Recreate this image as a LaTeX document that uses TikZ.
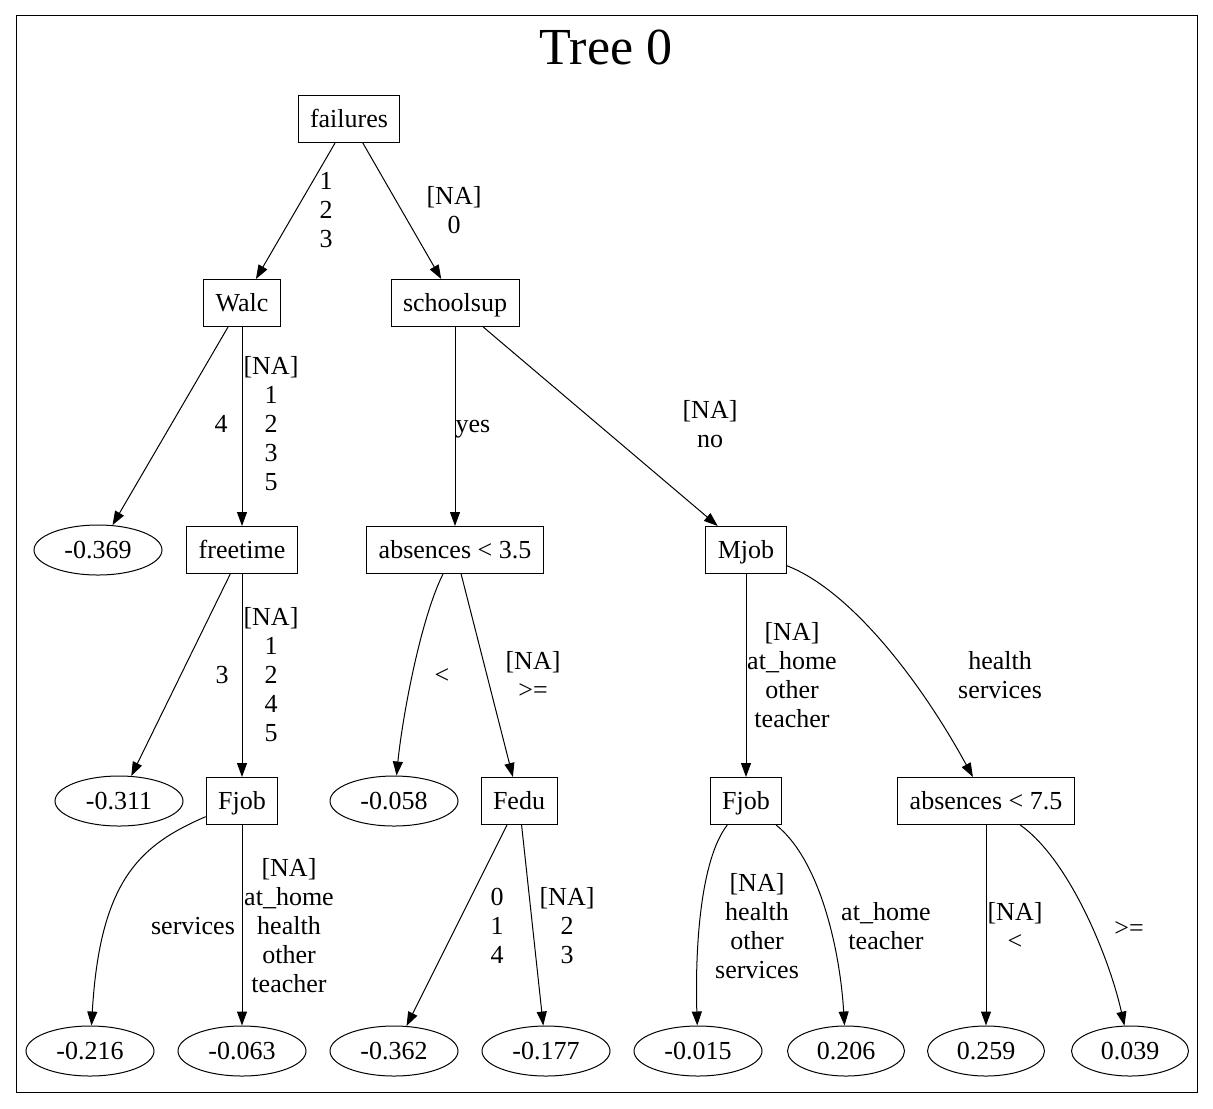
\documentclass[tikz,border=0pt]{standalone}
\usepackage{fontspec}
\setmainfont{Liberation Serif}
\usetikzlibrary{shapes.geometric,arrows.meta}
\begin{document}
\begin{tikzpicture}[x=0.75pt,y=-0.75pt,
  every node/.style={font=\fontsize{19.5}{21.75}\selectfont},
  box/.style={draw,rectangle,line width=0.75pt,minimum height=35.25pt,inner xsep=9pt,inner ysep=0pt,text height=13pt,text depth=0pt},
  leaf/.style={draw,ellipse,line width=0.75pt,minimum width=96pt,minimum height=37.5pt,inner sep=0pt,text height=13pt,text depth=0pt},
  pleaf/.style={leaf,minimum width=87.75pt},
  lbl/.style={align=center,inner sep=0pt},
  sl/.style={inner sep=0pt,text height=13.3pt,text depth=1.3pt},
  edge/.style={draw,line width=0.75pt,-{Triangle[length=10.5pt,width=7.5pt]}}]
\useasboundingbox (0,0) rectangle (1213,1108);
\draw[line width=0.75pt] (16,15) rectangle (1197,1092);
\node[inner sep=0pt,font=\fontsize{39}{40}\selectfont] (title) at (606,47) {Tree 0};
% internal nodes
\node[box] (failures) at (349,119) {failures};
\node[box] (walc) at (242,303) {Walc};
\node[box] (school) at (455,303) {schoolsup};
\node[box] (freetime) at (242,550) {freetime};
\node[box] (abs35) at (455,550) {absences < 3.5};
\node[box] (mjob) at (746,550) {Mjob};
\node[box] (fjob) at (242,801) {Fjob};
\node[box] (fedu) at (519,801) {Fedu};
\node[box] (fjobb) at (746,801) {Fjob};
\node[box] (abs75) at (986,801) {absences < 7.5};
% leaves
\node[leaf] (l369) at (98,550) {-0.369};
\node[leaf] (l311) at (119,801) {-0.311};
\node[leaf] (l058) at (394,801) {-0.058};
\node[leaf] (l216) at (90,1051) {-0.216};
\node[leaf] (l063) at (242,1051) {-0.063};
\node[leaf] (l362) at (394,1051) {-0.362};
\node[leaf] (l177) at (546,1051) {-0.177};
\node[leaf] (l015) at (698,1051) {-0.015};
\node[pleaf] (l206) at (846,1051) {0.206};
\node[pleaf] (l259) at (986,1051) {0.259};
\node[pleaf] (l039) at (1130,1051) {0.039};
% edges
\path[edge] (failures) -- (walc);
\path[edge] (failures) -- (school);
\path[edge] (walc) -- (l369);
\path[edge] (walc) -- (freetime);
\path[edge] (school) -- (abs35);
\path[edge] (school) -- (mjob);
\path[edge] (freetime) -- (l311);
\path[edge] (freetime) -- (fjob);
\path[edge] (abs35) .. controls (420,620) and (402,720) .. (l058);
\path[edge] (abs35) -- (fedu);
\path[edge] (mjob) -- (fjobb);
\path[edge] (mjob) .. controls (850,590) and (920,680) .. (abs75);
\path[edge] (fjob) .. controls (140,845) and (100,880) .. (l216);
\path[edge] (fjob) -- (l063);
\path[edge] (fedu) -- (l362);
\path[edge] (fedu) -- (l177);
\path[edge] (fjobb) .. controls (700,860) and (695,950) .. (l015);
\path[edge] (fjobb) .. controls (820,860) and (840,950) .. (l206);
\path[edge] (abs75) -- (l259);
\path[edge] (abs75) .. controls (1070,860) and (1110,960) .. (l039);
% labels
\node[lbl] (e1) at (326,210) {1\\2\\3};
\node[lbl] (e2) at (454,210) {[NA]\\0};
\node[sl] (e3) at (221,424) {4};
\node[lbl] (e4) at (271,424) {[NA]\\1\\2\\3\\5};
\node[sl] (e5) at (473,424) {yes};
\node[lbl] (e6) at (710,424) {[NA]\\no};
\node[sl] (e7) at (222,675) {3};
\node[lbl] (e8) at (271,675) {[NA]\\1\\2\\4\\5};
\node[sl] (e9) at (442,675) {<};
\node[lbl] (e10) at (533,675) {[NA]\\>=};
\node[lbl] (e11) at (792,675) {[NA]\\at\_home\\other\\teacher};
\node[lbl] (e12) at (1000,675) {health\\services};
\node[sl] (e13) at (193,926) {services};
\node[lbl] (e14) at (289,926) {[NA]\\at\_home\\health\\other\\teacher};
\node[lbl] (e15) at (497,926) {0\\1\\4};
\node[lbl] (e16) at (567,926) {[NA]\\2\\3};
\node[lbl] (e17) at (757,926) {[NA]\\health\\other\\services};
\node[lbl] (e18) at (886,926) {at\_home\\teacher};
\node[lbl] (e19) at (1015,926) {[NA]\\<};
\node[sl] (e20) at (1129,928) {>=};
\end{tikzpicture}
\end{document}
